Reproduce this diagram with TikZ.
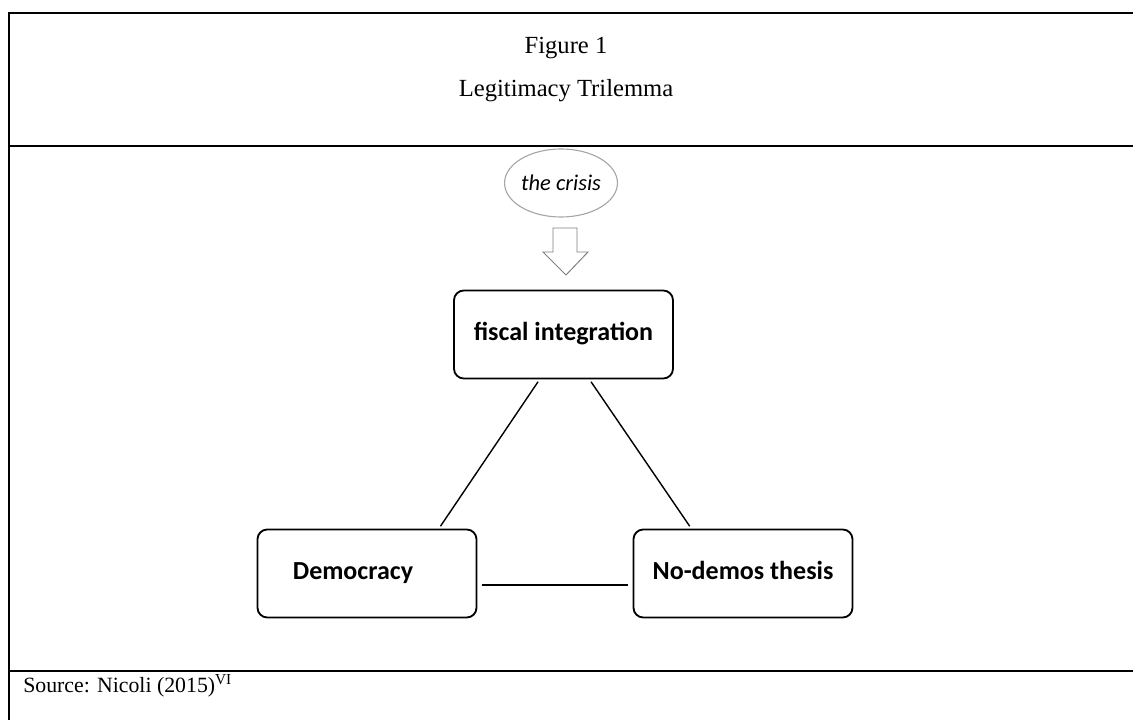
\documentclass[tikz,border=0pt]{standalone}
\usepackage{fontspec}
\setmainfont{Liberation Serif}
\newfontfamily\boxfont{Carlito}
\usepackage{tikz}
\usetikzlibrary{shapes}
\tikzstyle{corner} = [rectangle,rounded corners=7pt,minimum width=5.475cm,minimum height=2.2cm,text centered,text height=2ex,text depth=.2ex,draw=black,line width=1.3pt,font=\boxfont\bfseries\fontsize{18.5}{22}\selectfont]
\tikzstyle{cause} = [ellipse,minimum width=2.8cm,minimum height=1.7cm,inner sep=0pt,draw=gray!70,line width=0.8pt,font=\boxfont\itshape\fontsize{16}{19}\selectfont]
\tikzstyle{caption} = [inner sep=0pt,font=\fontsize{17.5}{21}\selectfont]
\tikzstyle{rule} = [line width=1.8pt]
\tikzstyle{link} = [line width=1pt,shorten >=2pt,shorten <=2pt]
\tikzstyle{push} = [draw=gray,line width=0.7pt]

\begin{document}
\begin{tikzpicture}[x=0.025cm,y=-0.025cm]
\useasboundingbox (0,0) rectangle (1133,720);
% frame of the table
\draw [rule] (9,720) -- (9,13) -- (1133,13);
\draw [rule] (9,146) -- (1133,146);
\draw [rule] (9,671) -- (1133,671);

\node (figno) [caption] at (566,48) {Figure 1};
\node (title) [caption] at (566,91) {Legitimacy Trilemma};
\node (source) [caption,anchor=west,font=\fontsize{15.5}{19}\selectfont] at (23,686) {Source: Nicoli (2015)\textsuperscript{VI}};

\node (crisis) [cause] at (561,183) {the crisis};
\node (fiscal) [corner] at (563.5,334.5) {fiscal integration};
\node (demo) [corner] at (367,573.5) {Democracy\hspace*{0.7cm}};
\node (nodemos) [corner] at (743,573.5) {No-demos thesis};

% hollow arrow under the crisis
\draw [push] (553,228) -- (577,228) -- (577,252) -- (588,252) -- (566,275) -- (543,252) -- (553,252) -- cycle;

\draw [link] (fiscal.-118) -- (demo.32);
\draw [link] (fiscal.-60) -- (nodemos.139);
\draw [link,shorten >=3pt,shorten <=3pt] (demo.-6.5) -- (nodemos.186.5);
\end{tikzpicture}
\end{document}
